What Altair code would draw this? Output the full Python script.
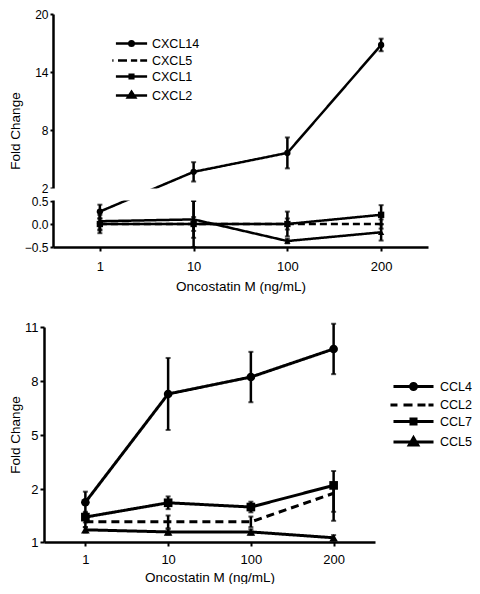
import altair as alt
import pandas as pd

doses = ["1", "10", "100", "200"]

top_series = ["CXCL14", "CXCL5", "CXCL1", "CXCL2"]
cxcl14 = [0.27, 3.67, 5.63, 16.8]
cxcl14_err = [0.15, 1.0, 1.6, 0.65]
cxcl5 = [0.0, 0.0, 0.0, 0.0]
cxcl5_err = [0.12, 0.15, 0.12, 0.1]
cxcl1 = [0.0, 0.0, 0.0, 0.2]
cxcl1_err = [0.2, 0.5, 0.27, 0.21]
cxcl2 = [0.06, 0.1, -0.37, -0.18]
cxcl2_err = [0.2, 0.4, 0.05, 0.18]

bot_series = ["CCL4", "CCL2", "CCL7", "CCL5"]
ccl4 = [1.75, 7.28, 8.22, 9.78]
ccl4_err = [0.2, 2.0, 1.4, 1.4]
ccl2 = [1.38, 1.38, 1.38, 1.92]
ccl2_err = [0.1, 0.12, 0.1, 0.35]
ccl7 = [1.47, 1.74, 1.66, 2.2]
ccl7_err = [0.1, 0.12, 0.1, 0.8]
ccl5 = [1.23, 1.19, 1.19, 1.08]
ccl5_err = [0.05, 0.05, 0.05, 0.05]

top_y_ticks = [-0.5, 0.0, 0.5, 2, 8, 14, 20]
bot_y_ticks = [1, 2, 5, 8, 11]
x_title = "Oncostatin M (ng/mL)"
y_title = "Fold Change"

FONT = "Liberation Sans"


def frame(names, vals, errs):
    rows = []
    for n, v, e in zip(names, vals, errs):
        for d, vv, ee in zip(doses, v, e):
            rows.append(dict(series=n, dose=d, value=vv, lo=vv - ee, hi=vv + ee))
    return pd.DataFrame(rows)


top_df = frame(top_series, [cxcl14, cxcl5, cxcl1, cxcl2],
               [cxcl14_err, cxcl5_err, cxcl1_err, cxcl2_err])
bot_df = frame(bot_series, [ccl4, ccl2, ccl7, ccl5],
               [ccl4_err, ccl2_err, ccl7_err, ccl5_err])


def panel(df, series, dashed, y_domain, y_range, y_ticks, label_expr, width, height,
          x_range, y_offset, y_title_pad, y_tick, y_label_size, x_label_pad, x_title_pad,
          stroke_w, dash, shapes, point_size, legend_paths, legend_kw, sym_w, mask=None):
    x = alt.X("dose:O", sort=doses,
              scale=alt.Scale(type="point", padding=0.5, range=x_range),
              axis=alt.Axis(title=x_title, labelAngle=0, labelPadding=x_label_pad,
                            titlePadding=x_title_pad))
    yaxis = alt.Axis(title=y_title, values=y_ticks, labelExpr=label_expr, offset=y_offset,
                     titlePadding=y_title_pad, tickSize=y_tick, labelOverlap=False,
                     labelFontSize=y_label_size)
    yscale = alt.Scale(domain=y_domain, range=y_range, nice=False, zero=False)
    base = alt.Chart(df)
    dash_range = [dash if s == dashed else [1, 0] for s in series]
    lines = base.mark_line(color="black", strokeWidth=stroke_w).encode(
        x=x,
        y=alt.Y("value:Q", scale=yscale, axis=yaxis),
        detail="series:N",
        strokeDash=alt.StrokeDash("series:N", scale=alt.Scale(domain=series, range=dash_range),
                                  legend=None),
    )
    rules = base.mark_rule(color="black", strokeWidth=2.5).encode(
        x=x, y=alt.Y("lo:Q", scale=yscale, axis=yaxis), y2="hi:Q")
    cap_lo = base.mark_tick(color="black", thickness=2, size=5).encode(
        x=x, y=alt.Y("lo:Q", scale=yscale, axis=yaxis))
    cap_hi = base.mark_tick(color="black", thickness=2, size=5).encode(
        x=x, y=alt.Y("hi:Q", scale=yscale, axis=yaxis))
    marker_series = [s for s in series if s != dashed]
    points = base.mark_point(color="black", filled=True, opacity=1, size=point_size).encode(
        x=x, y=alt.Y("value:Q", scale=yscale, axis=yaxis),
        shape=alt.Shape("series:N", scale=alt.Scale(domain=series, range=shapes), legend=None),
    ).transform_filter(alt.FieldOneOfPredicate(field="series", oneOf=marker_series))
    legend_layer = base.mark_point(filled=False, color="black", strokeWidth=sym_w,
                                   opacity=0).transform_calculate(
        key="datum.series").encode(
        x=x, y=alt.Y("value:Q", scale=yscale, axis=yaxis),
        shape=alt.Shape("key:N", scale=alt.Scale(domain=series, range=legend_paths),
                        legend=alt.Legend(title=None, orient="none",
                                          symbolFillColor="black", symbolStrokeColor="black",
                                          symbolStrokeWidth=sym_w, symbolOpacity=1,
                                          labelFont=FONT, labelColor="black", **legend_kw)),
    )
    layers = [lines, rules, cap_lo, cap_hi, points]
    if mask is not None:
        m = alt.Chart(pd.DataFrame({"a": [0]})).mark_rect(color="white").encode(
            x=alt.value(x_range[0] - 3), x2=alt.value(width + 4),
            y=alt.Y("lo:Q", scale=yscale, axis=yaxis), y2="hi:Q",
        ).transform_calculate(lo=str(mask[0]), hi=str(mask[1]))
        layers.append(m)
    layers.append(legend_layer)
    return alt.layer(*layers).resolve_scale(shape="independent").properties(
        width=width, height=height)


top_paths = [
    "M-2.6,0H2.6M-0.375,0A0.375,0.375 0 1,0 0.375,0A0.375,0.375 0 1,0 -0.375,0Z"
    "M-0.15,0A0.15,0.15 0 1,0 0.15,0A0.15,0.15 0 1,0 -0.15,0Z",
    "M-3.2,0H-3.0M-2.25,0H-0.75M-0.1,0H0.95M1.45,0H2.6",
    "M-2.6,0H2.6M-0.3,-0.3H0.3V0.3H-0.3ZM-0.1,-0.1H0.1V0.1H-0.1Z",
    "M-2.6,0H2.6M0,-0.62L0.62,0.35H-0.62ZM0,-0.22L0.22,0.15H-0.22Z",
]
bot_paths = [
    "M-2.86,0H2.86M-0.43,0A0.43,0.43 0 1,0 0.43,0A0.43,0.43 0 1,0 -0.43,0Z"
    "M-0.2,0A0.2,0.2 0 1,0 0.2,0A0.2,0.2 0 1,0 -0.2,0Z",
    "M-3.29,0H-2.29M-1.43,0H-0.14M0.57,0H1.71M2.14,0H2.86",
    "M-2.86,0H2.86M-0.36,-0.36H0.36V0.36H-0.36ZM-0.12,-0.12H0.12V0.12H-0.12Z",
    "M-2.86,0H2.86M0,-0.6L0.6,0.42H-0.6ZM0,-0.2L0.22,0.18H-0.22Z",
]

top = panel(top_df, top_series, "CXCL5", [-0.5, 0.5, 2, 20], [233, 187, 174, 0],
            top_y_ticks,
            "datum.value < 1 ? format(datum.value, '.1f') : format(datum.value, 'd')",
            384, 233, [9, 384], -9, 2, 3, 12, 9, 6,
            2.5, [7, 4], ["circle", "circle", "square", "triangle-up"], 40,
            top_paths,
            dict(legendX=80, legendY=22, symbolSize=144,
                 labelFontSize=12.5, labelOffset=13, rowPadding=2),
            2.5, mask=(0.55, 1.95))

bottom = panel(bot_df, bot_series, "CCL2", [1, 2, 11], [215, 162, 0], bot_y_ticks,
               "format(datum.value, 'd')",
               331, 215, [0, 331], 0, 2, 4, 13, 7, 4,
               3, [8, 5], ["circle", "circle", "square", "triangle-up"], 75,
               bot_paths,
               dict(legendX=361, legendY=51, symbolSize=196,
                    labelFontSize=12.5, labelOffset=18, rowPadding=0.5),
               3)

chart = alt.concat(top, bottom, columns=1, spacing=28).resolve_scale(
    y="independent", x="independent", shape="independent", strokeDash="independent"
).properties(padding=0).configure_view(stroke=None).configure_axis(
    domainColor="black", domainWidth=2.5, tickColor="black", tickWidth=2, tickSize=4,
    labelColor="black", titleColor="black", labelFont=FONT, titleFont=FONT,
    labelFontSize=13, titleFontSize=13.5, titleFontWeight="normal", grid=False,
)

chart.save("out.html", embed_options={"renderer": "svg", "actions": False})
